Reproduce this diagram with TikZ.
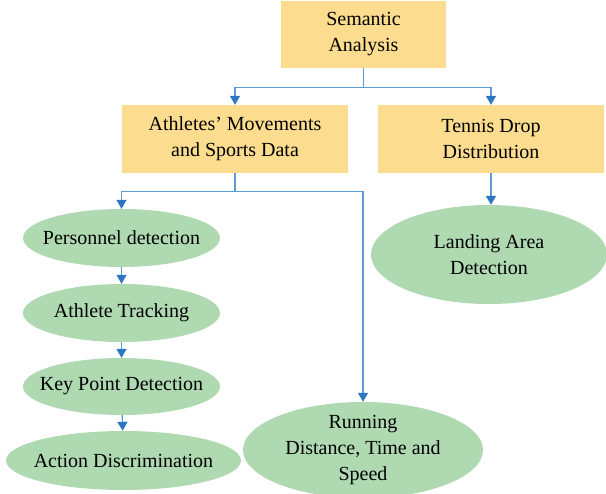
\documentclass[tikz,border=0pt]{standalone}
\usepackage{fontspec}
\setmainfont{Liberation Serif}
\usetikzlibrary{arrows,arrows.meta,shapes.geometric}
\definecolor{boxfill}{HTML}{FCDC8E}
\definecolor{ovalfill}{HTML}{AED9B1}
\definecolor{linkblue}{HTML}{5B9BD5}
\definecolor{tipblue}{HTML}{2E75C4}

\begin{document}
\begin{tikzpicture}[x=1pt,y=1pt]
    \tikzset{topic/.style = {shape=rectangle, fill=boxfill, align=center, font=\fontsize{20}{26}\selectfont, inner sep=0pt}}
    \tikzset{task/.style = {shape=ellipse, fill=ovalfill, align=center, font=\fontsize{20}{26}\selectfont, inner xsep=-45pt, inner ysep=-25pt}}
    \tikzset{link/.style = {draw=linkblue, line width=1.3pt, -{Triangle[width=10pt,length=9pt,color=tipblue]}}}

    \clip (0,0) rectangle (606,-494);

    % boxes
    \node[topic, minimum width=165, minimum height=67] (sem) at (363.5,-34.5) {Semantic\\Analysis};
    \node[topic, minimum width=226, minimum height=68] (ath) at (235,-139) {Athletes’ Movements\\and Sports Data};
    \node[topic, minimum width=226, minimum height=68] (ten) at (491,-139) {Tennis Drop\\Distribution};

    % ellipses
    \node[task, minimum width=197, minimum height=58] (per) at (121.5,-238) {Personnel detection};
    \node[task, minimum width=197, minimum height=58] (trk) at (121.5,-313) {Athlete Tracking};
    \node[task, minimum width=197, minimum height=57] (key) at (121.5,-386.5) {Key Point Detection};
    \node[task, minimum width=235, minimum height=59] (act) at (123.5,-460.5) {Action Discrimination};
    \node[task, minimum width=240, minimum height=96] (run) at (363,-450) {Running\\Distance, Time and\\Speed};
    \node[task, minimum width=236, minimum height=99] (lnd) at (489,-254.5) {Landing Area\\Detection};

    % edges
    \draw[link] (sem.south) -- ++(0,-19) -| (ath.north);
    \draw[link] (sem.south) -- ++(0,-19) -| (ten.north);
    \draw[link] (ath.south) -- ++(0,-18) -| (per.north);
    \draw[link] (ath.south) -- ++(0,-18) -| (run.north);
    \draw[link] (ten.south) -- (ten.south |- lnd.north);
    \draw[link] (per) -- (trk);
    \draw[link] (trk) -- (key);
    \draw[link] (key) -- (act);
\end{tikzpicture}
\end{document}
